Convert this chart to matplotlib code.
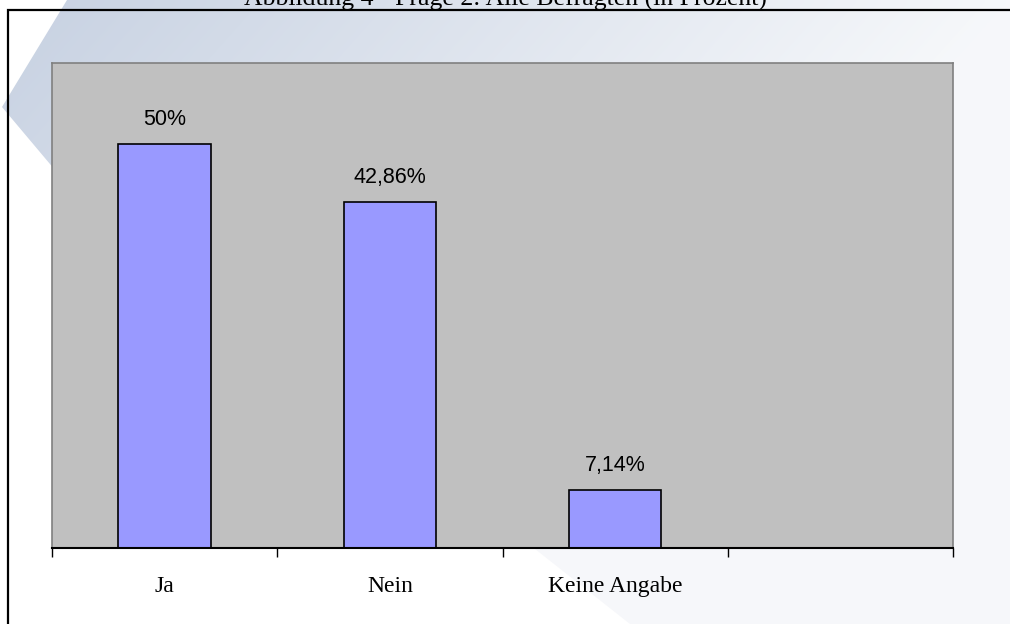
import matplotlib
matplotlib.use("Agg")
import matplotlib.pyplot as plt
from matplotlib.patches import Polygon
import numpy as np

# Daten: Frage 2, alle Befragten (in Prozent)
categories = ["Ja", "Nein", "Keine Angabe"]
values = [50, 42.86, 7.14]
n_slots = 4  # vierte Kategorie bleibt leer
title = "Abbildung 4 - Frage 2: Alle Befragten (in Prozent)"

W, H = 1010, 624
fig = plt.figure(figsize=(W / 100, H / 100), dpi=100)
fig.patch.set_facecolor("white")

# Hintergrund: blaugrauer Verlauf in Pfeilform
bg = fig.add_axes([0, 0, 1, 1], zorder=-1)
bg.set_xlim(0, W)
bg.set_ylim(H, 0)
bg.axis("off")
tx = np.linspace(0, 1, 200)
ty = np.linspace(0, 1, 120)
left_c = np.array([0.78, 0.82, 0.885])
right_c = np.array([0.965, 0.972, 0.982])
mix = np.clip(tx[None, :] + 0.55 * ty[:, None], 0, 1)
img = left_c * (1 - mix[..., None]) + right_c * mix[..., None]
im = bg.imshow(img, extent=[0, W, H, 0], aspect="auto", interpolation="bilinear")
shape = Polygon([(67, 0), (W, 0), (W, H), (630, H), (55, 170), (2, 107)],
                closed=True, transform=bg.transData, facecolor="none", edgecolor="none")
bg.add_patch(shape)
im.set_clip_path(shape)

# Rahmen (links und oben sichtbar)
bg.plot([8, 8, W + 5], [H + 5, 10, 10], color="black", lw=1.6, solid_joinstyle="miter")

# Titel, oben angeschnitten wie im Original
fig.text(505 / W, 1 - 6 / H, title, ha="center", va="baseline",
         family="Liberation Serif", fontsize=18.5)

ax = fig.add_axes([52 / W, 76 / H, 901 / W, 485 / H])
ax.set_facecolor("#c0c0c0")
x = np.arange(len(categories))
ax.bar(x, values, width=0.41, color="#9999ff", edgecolor="black", linewidth=1.2, zorder=3)
ax.set_xlim(-0.5, n_slots - 0.5)
ax.set_ylim(0, 60)

for s in ["top", "left", "right"]:
    ax.spines[s].set_color("#808080")
    ax.spines[s].set_linewidth(1.2)
ax.spines["bottom"].set_color("black")
ax.spines["bottom"].set_linewidth(1.5)
ax.spines["bottom"].set_zorder(4)

ax.set_yticks([])
ax.set_xticks(np.arange(n_slots + 1) - 0.5)
ax.set_xticklabels([])
ax.tick_params(axis="x", direction="out", length=6.5, width=1, color="black")

for i, v in enumerate(values):
    lab = f"{v:g}".replace(".", ",") + "%"
    ax.annotate(lab, xy=(i, v), xytext=(0, 13.7), textcoords="offset points",
                ha="center", va="baseline", family="Liberation Sans", fontsize=15.5)

for i, c in enumerate(categories):
    ax.annotate(c, xy=(i, 0), xycoords=("data", "axes fraction"), xytext=(0, -31.7),
                textcoords="offset points", ha="center", va="baseline",
                family="Liberation Serif", fontsize=17)

fig.savefig("out.png", dpi=100)
